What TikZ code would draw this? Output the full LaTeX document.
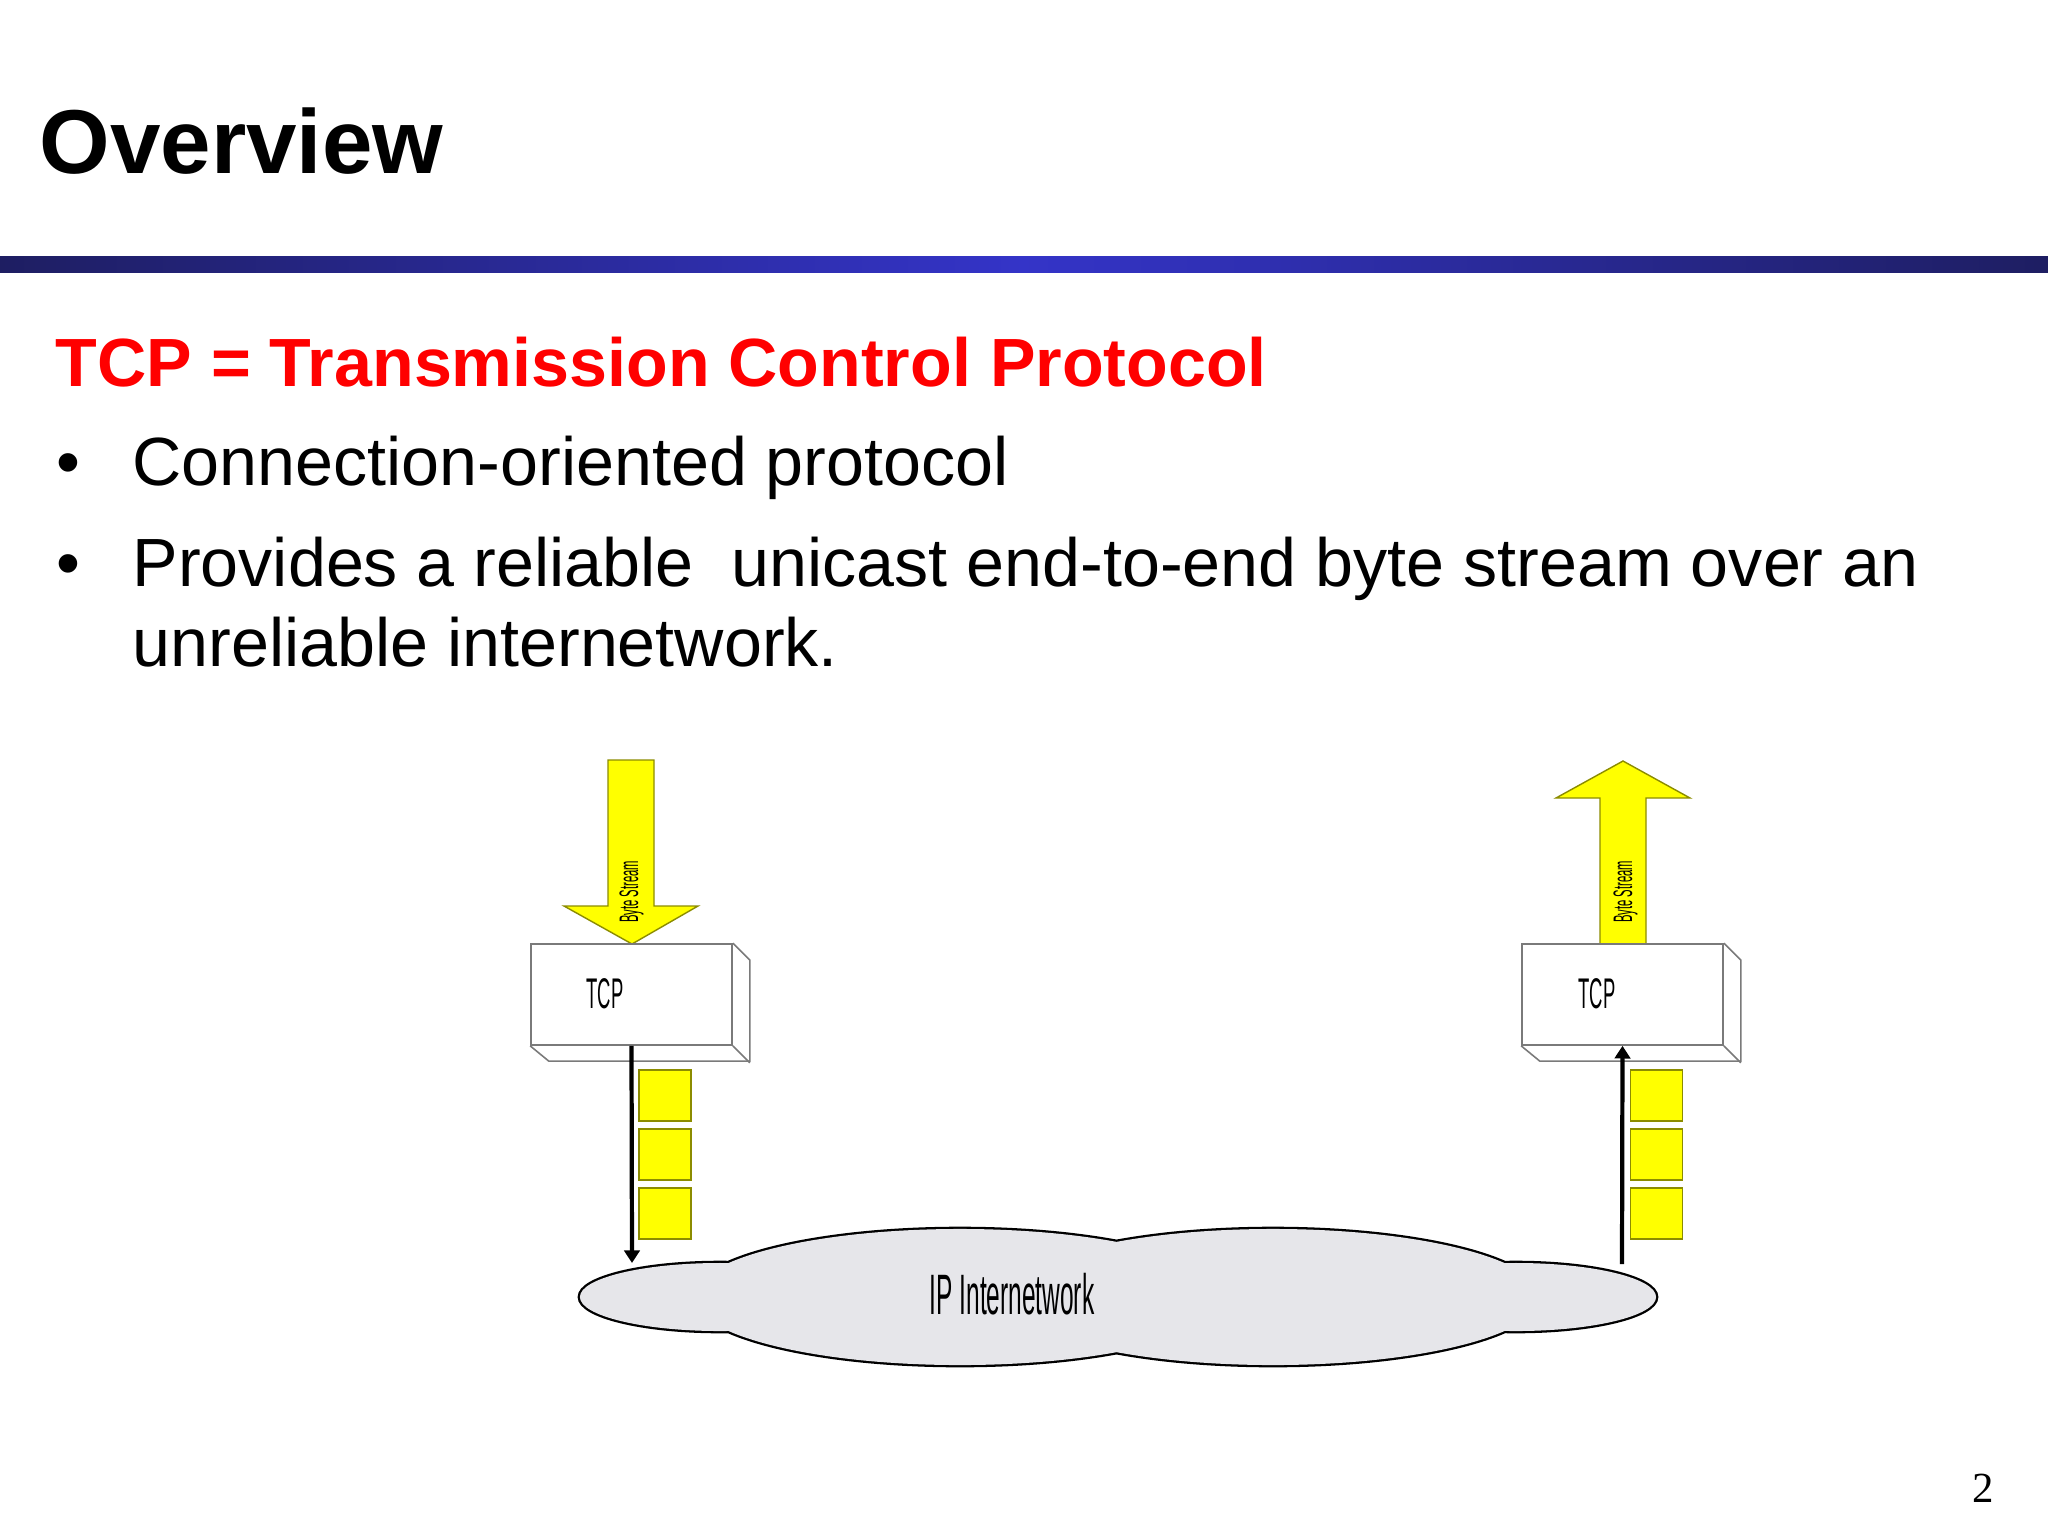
\documentclass[tikz,border=0pt]{standalone}
\usepackage{fontspec}
\setmainfont{Liberation Sans}
\newfontfamily\slidenumfont{Liberation Serif}
\newfontfamily\narrowfont[FakeStretch=0.43]{Liberation Sans}
\newfontfamily\streamfont[FakeStretch=0.42]{Liberation Sans}
\usepackage{xcolor}
\usetikzlibrary{arrows.meta}

\definecolor{barDark}{HTML}{1E1E62}
\definecolor{barMid}{HTML}{3434C8}
\definecolor{headRed}{HTML}{FF0000}
\definecolor{streamYellow}{HTML}{FFFF00}
\definecolor{streamEdge}{HTML}{8C8C00}
\definecolor{boxEdge}{HTML}{7A7A7A}
\definecolor{cloudGray}{HTML}{E6E6EA}

\tikzset{
  bodytext/.style={anchor=base west, inner sep=0pt, font=\fontsize{19.4}{23}\selectfont},
  headline/.style={bodytext, text=headRed, font=\fontsize{19.4}{23}\selectfont\bfseries},
  bulletdot/.style={anchor=base, inner sep=0pt, font=\fontsize{19.4}{23}\selectfont},
  tcpbox/.style={draw=boxEdge, line width=0.45pt, fill=white, minimum width=2.01cm, minimum height=1.01cm, inner sep=0pt},
  tcplbl/.style={anchor=base, inner sep=0pt, font=\narrowfont\fontsize{12.2}{14}\selectfont},
  streamarrow/.style={draw=streamEdge, line width=0.4pt, fill=streamYellow},
  streamlbl/.style={anchor=base, rotate=90, inner sep=0pt, font=\streamfont\fontsize{7.6}{9}\selectfont},
  segbox/.style={draw=streamEdge, line width=0.4pt, fill=streamYellow, minimum width=0.52cm, minimum height=0.51cm, inner sep=0pt},
  flowline/.style={line width=1.2pt, -{Triangle[width=4.4pt, length=3.6pt]}},
}

\begin{document}
\begin{tikzpicture}[x=0.01cm, y=-0.01cm]
        \useasboundingbox (0,0) rectangle (2048,1536);
        \fill[white] (0,0) rectangle (2048,1536);

        % Title and header bar
        \node[anchor=base west, inner sep=0pt, font=\fontsize{25.8}{30}\selectfont\bfseries] (title) at (39,173) {Overview};
        \shade[left color=barDark, right color=barDark, middle color=barMid] (0,256) rectangle (2048,272);

        % Heading and bullets
        \node[headline] (heading) at (55,386) {TCP = Transmission Control Protocol};
        \node[bulletdot] (dotA) at (68,485) {\textbullet};
        \node[bodytext] (itemA) at (132,485) {Connection-oriented protocol};
        \node[bulletdot] (dotB) at (68,586) {\textbullet};
        \node[bodytext] (itemB) at (132,586) {Provides a reliable \ unicast end-to-end byte stream over an};
        \node[bodytext] (itemBnext) at (132,666) {unreliable internetwork.};

        % Left side: byte stream goes down into TCP
        \draw[streamarrow] (608,760) -- (654,760) -- (654,906) -- (698,906) -- (632,944) -- (564,906) -- (608,906) -- cycle;
        \node[streamlbl] (streamL) at (638,892) {Byte Stream};
        \node[tcpbox] (tcpL) at (631.5,994.5) {};
        \draw[boxEdge, line width=0.45pt] (tcpL.north east) -- ++(17,17) -- ++(0,101) -- ++(-201,0) -- (tcpL.south west);
        \draw[boxEdge, line width=0.45pt] (tcpL.south east) -- ++(17,17);
        \node[tcplbl] (tcpLtxt) at (605,1008) {TCP};

        % Right side: byte stream comes up out of TCP
        \draw[streamarrow] (1600,944) -- (1600,798) -- (1556,798) -- (1623,761) -- (1690,798) -- (1646,798) -- (1646,944) -- cycle;
        \node[streamlbl] (streamR) at (1632,892) {Byte Stream};
        \node[tcpbox] (tcpR) at (1622.5,994.5) {};
        \draw[boxEdge, line width=0.45pt] (tcpR.north east) -- ++(17,17) -- ++(0,101) -- ++(-201,0) -- (tcpR.south west);
        \draw[boxEdge, line width=0.45pt] (tcpR.south east) -- ++(17,17);
        \node[tcplbl] (tcpRtxt) at (1597,1008) {TCP};

        % Segments
        \node[segbox] (segL1) at (665,1095.5) {};
        \node[segbox] (segL2) at (665,1154.5) {};
        \node[segbox] (segL3) at (665,1213.5) {};
        \node[segbox] (segR1) at (1656.5,1095.5) {};
        \node[segbox] (segR2) at (1656.5,1154.5) {};
        \node[segbox] (segR3) at (1656.5,1213.5) {};

        % Cloud: outline first, then fill over the inner lines
        \path[draw=black, line width=1.3pt] (720,1297) ellipse [x radius=1.40cm, y radius=0.34cm]
            (960,1297) ellipse [x radius=2.67cm, y radius=0.68cm]
            (1273,1297) ellipse [x radius=2.67cm, y radius=0.68cm]
            (1516,1297) ellipse [x radius=1.40cm, y radius=0.34cm];
        \path[fill=cloudGray] (720,1297) ellipse [x radius=1.40cm, y radius=0.34cm]
            (960,1297) ellipse [x radius=2.67cm, y radius=0.68cm]
            (1273,1297) ellipse [x radius=2.67cm, y radius=0.68cm]
            (1516,1297) ellipse [x radius=1.40cm, y radius=0.34cm];
        \node[anchor=base, inner sep=0pt, font=\narrowfont\fontsize{16.2}{19}\selectfont] (net) at (1012,1314) {IP Internetwork};

        % Connectors
        \coordinate (netL) at (632,1263);
        \coordinate (netR) at (1622,1264);
        \draw[flowline] (tcpL.south) -- (netL);
        \draw[flowline] (netR) -- (tcpR.south);

        % Slide number
        \node[anchor=base, inner sep=0pt, font=\slidenumfont\fontsize{12.2}{14}\selectfont] (slidenum) at (1983,1502) {2};
\end{tikzpicture}
\end{document}
